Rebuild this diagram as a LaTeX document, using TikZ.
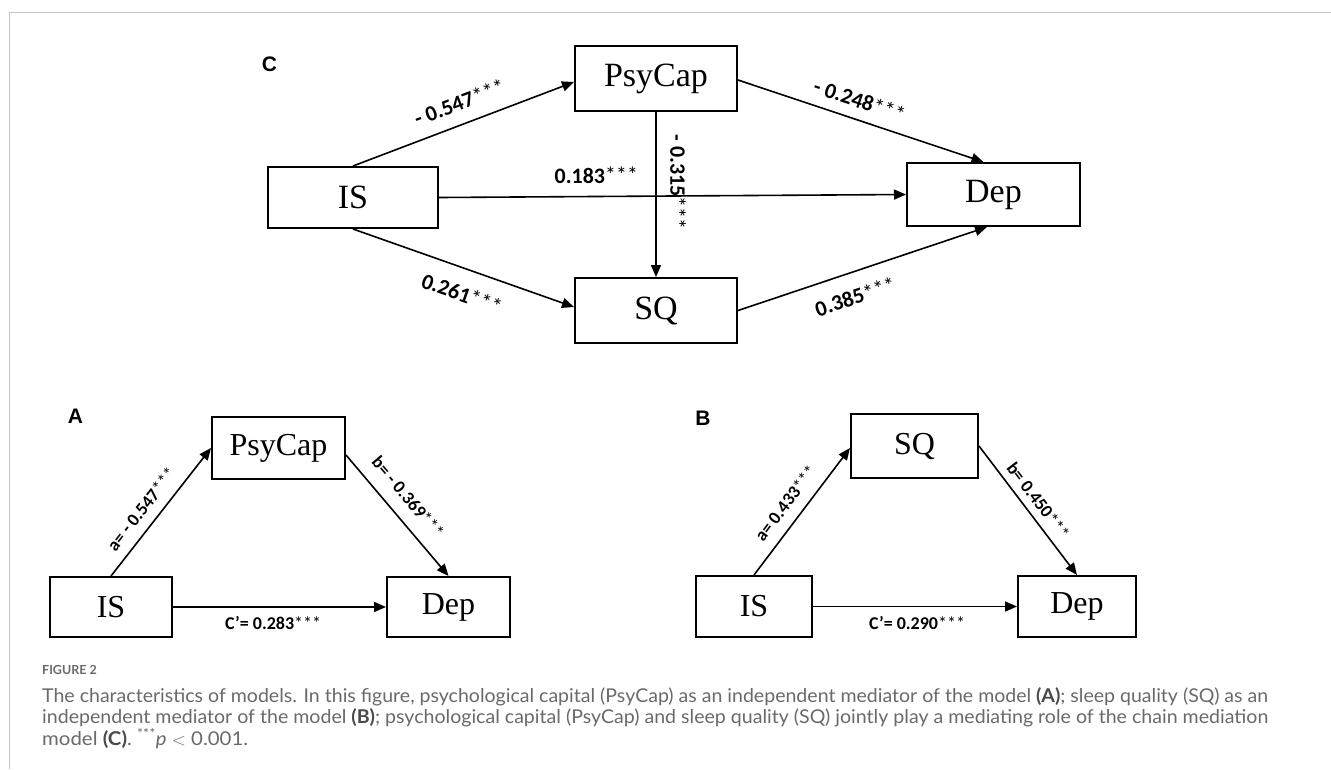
\documentclass[tikz,border=0pt]{standalone}
\usepackage{fontspec}
\setmainfont{Liberation Serif}
\newfontfamily\lblfont{Carlito}
\newfontfamily\capfont{Lato}
\newfontfamily\panfont{Liberation Sans}
\usetikzlibrary{arrows.meta,calc}
\definecolor{cgray}{HTML}{6A6A6A}
\definecolor{cdark}{HTML}{4A4A4A}
\definecolor{cborder}{HTML}{C4C4C4}
\tikzset{
  box/.style={draw, line width=2pt, inner sep=0pt, font=\fontsize{34}{40}\selectfont},
  boxs/.style={draw, line width=2pt, inner sep=0pt, font=\fontsize{32}{38}\selectfont},
  arr/.style={line width=1.6pt, -{Triangle[length=12pt,width=10pt]}},
  lbl/.style={sloped, inner sep=0pt, font=\lblfont\bfseries\fontsize{22}{26}\selectfont},
  lbls/.style={sloped, inner sep=0pt, font=\lblfont\bfseries\fontsize{18}{22}\selectfont},
  panel/.style={inner sep=0pt, font=\panfont\bfseries\fontsize{21}{24}\selectfont},
  capline/.style={anchor=base west, inner sep=0pt, text=cgray, font=\capfont\fontsize{19}{22}\selectfont},
}
\newcommand\stars{{\mdseries ***}}
\newcommand\capb[1]{{\color{cdark}\bfseries #1}}
\begin{document}
\begin{tikzpicture}[x=1pt,y=-1pt]
\useasboundingbox (0,0) rectangle (1331,769);
\fill[white] (0,0) rectangle (1331,769);
\draw[line width=1.5pt, cborder] (9.25,769) -- (9.25,12.5) -- (1331,12.5);

% ---------- Panel C ----------
\node[panel] (labC) at (269.5,64) {C};
\node[box, minimum width=170pt, minimum height=61pt] (ISC) at (353,197.5) {IS};
\node[box, minimum width=162pt, minimum height=65pt] (PsyC) at (656,78.5) {PsyCap};
\node[box, minimum width=162pt, minimum height=65pt] (SQC) at (656,310.5) {SQ};
\node[box, minimum width=173pt, minimum height=63pt] (DepC) at (993.5,194.5) {Dep};

\draw[arr] (ISC.north) -- node[lbl, above=13pt, pos=0.516] {- 0.547\stars} ([yshift=-3.5pt]PsyC.west);
\draw[arr] (ISC.south) -- node[lbl, below=16pt, pos=0.53] {0.261\stars} ([yshift=3.5pt]SQC.west);
\draw[arr] (ISC.east) -- node[lbl, above=12.5pt, pos=0.337] {0.183\stars} (DepC.west);
\draw[arr] (PsyC.south) -- node[lbl, above=13.5pt, pos=0.425] {- 0.315\stars} (SQC.north);
\draw[arr] ([yshift=-1.5pt]PsyC.east) -- node[lbl, above=10.7pt, pos=0.47] {- 0.248\stars} ([xshift=-10pt]DepC.north);
\draw[arr] (SQC.east) -- node[lbl, below=15.5pt, pos=0.44] {0.385\stars} ([xshift=-6.5pt]DepC.south);

% ---------- Panel A ----------
\node[panel] (labA) at (75.5,416.5) {A};
\node[boxs, minimum width=122pt, minimum height=60pt] (ISA) at (111,607) {IS};
\node[boxs, minimum width=133pt, minimum height=62pt] (PsyA) at (278.5,448) {PsyCap};
\node[boxs, minimum width=123pt, minimum height=60pt] (DepA) at (448.5,607) {Dep};

\draw[arr] (ISA.north) -- node[lbls, above=10pt, pos=0.44] {a= - 0.547\stars} (PsyA.west);
\draw[arr] ([yshift=-7pt]PsyA.east) -- node[lbls, above=13pt, pos=0.456] {b= - 0.369\stars} (DepA.north);
\draw[arr] (ISA.east) -- node[lbls, below=9pt, pos=0.47] {C’= 0.283\stars} (DepA.west);

% ---------- Panel B ----------
\node[panel] (labB) at (703,418) {B};
\node[boxs, minimum width=116pt, minimum height=61pt] (ISB) at (754,606.5) {IS};
\node[boxs, minimum width=127pt, minimum height=64pt] (SQB) at (914.5,446) {SQ};
\node[boxs, minimum width=118pt, minimum height=61pt] (DepB) at (1077,606.5) {Dep};

\draw[arr] (ISB.north) -- node[lbls, above=11pt, pos=0.48] {a= 0.433\stars} ([yshift=-2pt]SQB.west);
\draw[arr] (SQB.east) -- node[lbls, above=7pt, pos=0.49] {b= 0.450\stars} (DepB.north);
\draw[arr] (ISB.east) -- node[lbls, below=9pt, pos=0.51] {C’= 0.290\stars} (DepB.west);

% ---------- Caption ----------
\node[anchor=base west, inner sep=0pt, text=cgray, font=\capfont\bfseries\fontsize{12.5}{14}\selectfont] (fig) at (42,674) {FIGURE 2};
\node[capline] (cap1) at (42,702) {\resizebox{1226pt}{\height}{The characteristics of models. In this figure, psychological capital (PsyCap) as an independent mediator of the model \capb{(A)}; sleep quality (SQ) as an}};
\node[capline] (cap2) at (42,723.5) {\resizebox{1226pt}{\height}{independent mediator of the model \capb{(B)}; psychological capital (PsyCap) and sleep quality (SQ) jointly play a mediating role of the chain mediation}};
\node[capline] (cap3) at (42,745) {\resizebox{206pt}{\height}{model \capb{(C)}. \textsuperscript{***}\textit{p} $<$ 0.001.}};
\end{tikzpicture}
\end{document}
